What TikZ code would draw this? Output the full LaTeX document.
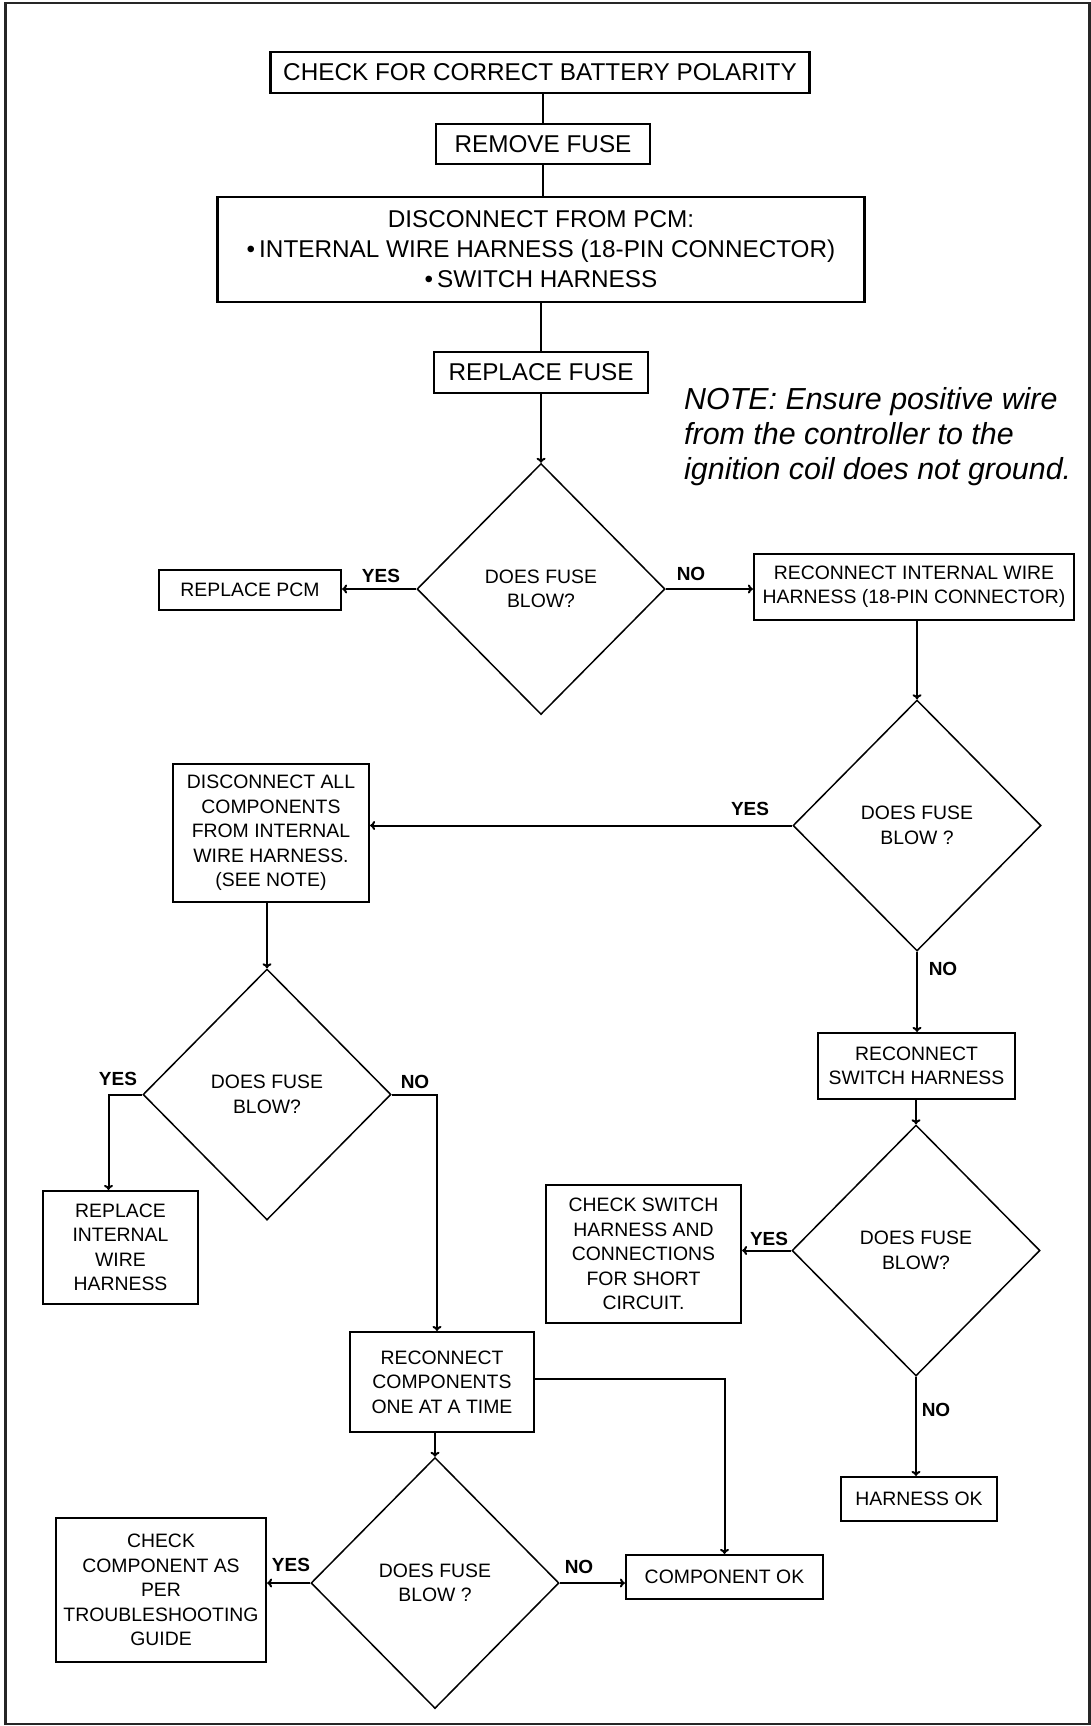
\documentclass[tikz,border=0pt]{standalone}
\usepackage{fontspec}
\setmainfont{Liberation Sans}
\usetikzlibrary{shapes.geometric,arrows.meta}

\newcommand{\stepfont}{\fontsize{24.3}{30}\selectfont}
\newcommand{\askfont}{\fontsize{19.4}{24.4}\selectfont}
\newcommand{\ansfont}{\fontsize{19}{22}\selectfont\bfseries}
\newcommand{\notefont}{\fontsize{30.4}{35}\selectfont\itshape}

\tikzset{
  stepbox/.style={draw,line width=2.2pt,inner sep=0pt,align=center,font=\stepfont},
  smallbox/.style={stepbox,font=\askfont},
  ask/.style={diamond,draw,line width=1.5pt,inner sep=0pt,aspect=1,align=center,
    font=\askfont,minimum width=248pt,minimum height=251pt},
  ans/.style={font=\ansfont,inner sep=0pt},
  conn/.style={line width=2pt},
  arr/.style={conn,-{To[length=5pt,width=9pt]}}
}

\begin{document}
\begin{tikzpicture}[x=1pt,y=-1pt]
\useasboundingbox (0,0) rectangle (1091,1726);
\draw[line width=2.5pt,black!85] (5.5,3) rectangle (1089.5,1724);

% main column
\node[stepbox,minimum width=539pt,minimum height=41pt] (battery) at (540,72.5) {CHECK FOR CORRECT BATTERY POLARITY};
\node[stepbox,minimum width=214pt,minimum height=40pt] (remove) at (543,144) {REMOVE FUSE};
\node[stepbox,minimum width=647pt,minimum height=105pt] (disc) at (541,249.5)
  {DISCONNECT FROM PCM:\\ \textbullet\,INTERNAL WIRE HARNESS (18-PIN CONNECTOR)\\ \textbullet\,SWITCH HARNESS};
\node[stepbox,minimum width=214pt,minimum height=41pt] (refuse) at (541,372.5) {REPLACE FUSE};

\node[font=\notefont,align=left,anchor=west,inner sep=0pt] (note) at (684,437)
  {NOTE: Ensure positive wire\\from the controller to the\\ignition coil does not ground.};

\node[ask] (q1) at (541,589) {DOES FUSE\\BLOW?};
\node[smallbox,minimum width=182pt,minimum height=40pt] (pcm) at (250,590) {REPLACE PCM};
\node[smallbox,minimum width=320pt,minimum height=66pt] (wire) at (914,587)
  {RECONNECT INTERNAL WIRE\\HARNESS (18-PIN CONNECTOR)};

% right branch
\node[ask] (q2) at (917,825.5) {DOES FUSE\\BLOW ?};
\node[smallbox,minimum width=197pt,minimum height=66pt] (switch) at (916.5,1066) {RECONNECT\\SWITCH HARNESS};
\node[ask] (q3) at (916,1250.5) {DOES FUSE\\BLOW?};
\node[smallbox,minimum width=195pt,minimum height=138pt] (short) at (643.5,1254)
  {CHECK SWITCH\\HARNESS AND\\CONNECTIONS\\FOR SHORT\\CIRCUIT.};
\node[smallbox,minimum width=156pt,minimum height=44pt] (hok) at (919,1499) {HARNESS OK};

% left branch
\node[smallbox,minimum width=196pt,minimum height=138pt] (all) at (271,833)
  {DISCONNECT ALL\\COMPONENTS\\FROM INTERNAL\\WIRE HARNESS.\\(SEE NOTE)};
\node[ask] (q4) at (267,1094.5) {DOES FUSE\\BLOW?};
\node[smallbox,minimum width=155pt,minimum height=113pt] (rwire) at (120.5,1247.5)
  {REPLACE\\INTERNAL\\WIRE\\HARNESS};
\node[smallbox,minimum width=184pt,minimum height=100pt] (comps) at (442,1382)
  {RECONNECT\\COMPONENTS\\ONE AT A TIME};
\node[ask] (q5) at (435,1583) {DOES FUSE\\BLOW ?};
\node[smallbox,minimum width=210pt,minimum height=144pt] (guide) at (161,1590)
  {CHECK\\COMPONENT AS\\PER\\TROUBLESHOOTING\\GUIDE};
\node[smallbox,minimum width=197pt,minimum height=44pt] (cok) at (724.5,1577) {COMPONENT OK};

% answers
\node[ans] (y1) at (381,576) {YES};
\node[ans] (n1) at (691,574) {NO};
\node[ans] (y2) at (750,809) {YES};
\node[ans] (n2) at (943,969) {NO};
\node[ans] (y3) at (769,1239) {YES};
\node[ans] (n3) at (936,1410) {NO};
\node[ans] (y4) at (118,1079) {YES};
\node[ans] (n4) at (415,1082) {NO};
\node[ans] (y5) at (291,1565) {YES};
\node[ans] (n5) at (579,1567) {NO};

\draw[conn] (battery.south -| remove.north) -- (remove.north);
\draw[conn] (remove.south) -- (remove.south |- disc.north);
\draw[conn] (disc.south -| refuse.north) -- (refuse.north);
\draw[arr] (refuse.south -| q1.north) -- (q1.north);
\draw[arr] (q1.west) -- (q1.west -| pcm.east);
\draw[arr] (q1.east) -- (q1.east -| wire.west);

\draw[arr] (wire.south -| q2.north) -- (q2.north);
\draw[arr] (q2.west) -- (q2.west -| all.east);
\draw[arr] (q2.south) -- (q2.south |- switch.north);
\draw[arr] (switch.south -| q3.north) -- (q3.north);
\draw[arr] (q3.west) -- (q3.west -| short.east);
\draw[arr] (q3.south) -- (q3.south |- hok.north);

\draw[arr] (all.south -| q4.north) -- (q4.north);
\draw[arr] (q4.west) -| ([xshift=-12pt]rwire.north);
\draw[arr] (q4.east) -| ([xshift=-5pt]comps.north);
\draw[arr] (comps.south -| q5.north) -- (q5.north);
\draw[arr] ([yshift=3pt]comps.east) -| (cok.north);
\draw[arr] (q5.west) -- (q5.west -| guide.east);
\draw[arr] (q5.east) -- (q5.east -| cok.west);

\end{tikzpicture}
\end{document}
